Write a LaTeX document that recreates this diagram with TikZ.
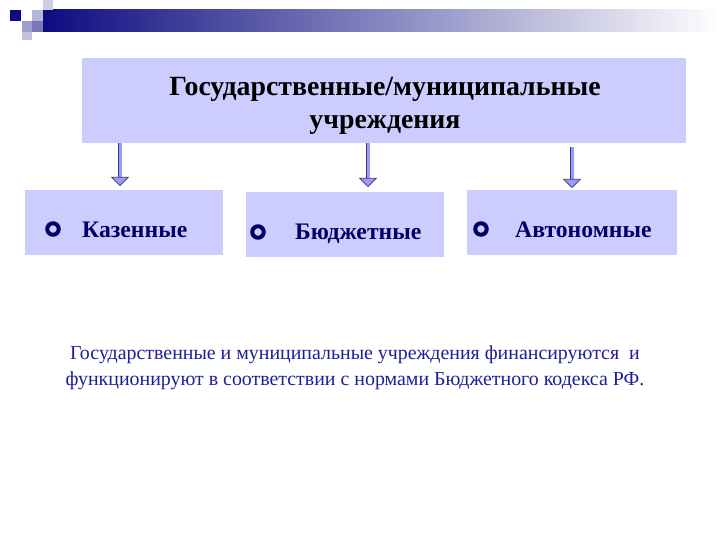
\documentclass[tikz,border=0pt]{standalone}
\usepackage{fontspec}
\setmainfont{Liberation Serif}
\usetikzlibrary{arrows.meta}
\definecolor{navy}{HTML}{0C0C80}
\definecolor{boxfill}{HTML}{CCCCFF}
\definecolor{arrowfill}{HTML}{9999FF}
\definecolor{arrowline}{HTML}{3A3A66}
\definecolor{labelnavy}{HTML}{000066}
\definecolor{bodyblue}{HTML}{1E1E99}
\begin{document}
\begin{tikzpicture}[x=1pt,y=-1pt,
	panel/.style={fill=boxfill,inner sep=0pt,anchor=north west},
	ring/.style={circle,draw=labelnavy,line width=4pt,minimum size=11.5pt,inner sep=0pt},
	kind/.style={anchor=base west,text=labelnavy,font=\bfseries\fontsize{23.7}{28}\selectfont,inner sep=0pt},
	blockarrow/.style={draw=arrowline,line width=0.7pt,double=arrowfill,double distance=3pt,
		-{Triangle[length=9pt,width=18pt,fill=arrowfill,line width=0.7pt]}}]
\useasboundingbox (0,0) rectangle (720,540);
\shade[left color=navy,right color=white] (43,10) rectangle (720,32);
\fill[navy] (10,10) rectangle (21,21);
\fill[navy!30] (32,10) rectangle (43,21);
\fill[navy!55] (32,21) rectangle (43,32);
\fill[navy!40] (22,21) rectangle (32,32);
\fill[navy!25] (22,32) rectangle (32,40);
\fill[navy!20] (43,0) rectangle (53,10);
\node[panel,minimum width=604pt,minimum height=85pt] (uchr) at (82,58) {};
\node[align=center,font=\bfseries\fontsize{27.8}{33}\selectfont] (title) at (385,106)
	{Государственные/муниципальные\\учреждения};
\node[panel,minimum width=198pt,minimum height=65pt] (kaz) at (25,190) {};
\node[panel,minimum width=198pt,minimum height=65pt] (budzh) at (246,192) {};
\node[panel,minimum width=210pt,minimum height=65pt] (avt) at (467,190) {};
\node[ring] (kazr) at (53,229) {};
\node[ring] (budzhr) at (258,232) {};
\node[ring] (avtr) at (481,229) {};
\node[kind] (kazt) at (82,237) {Казенные};
\node[kind] (budzht) at (295,240) {Бюджетные};
\node[kind] (avtt) at (515,237) {Автономные};
\coordinate (a1) at (120,0);
\coordinate (a2) at (368,0);
\coordinate (a3) at (572,0);
\draw[blockarrow,shorten >=4pt] (uchr.south -| a1) -- (kaz.north -| a1);
\draw[blockarrow,shorten >=5pt] (uchr.south -| a2) -- (budzh.north -| a2);
\draw[blockarrow,shorten <=4pt,shorten >=2pt] (uchr.south -| a3) -- (avt.north -| a3);
\node[align=center,text=bodyblue,font=\fontsize{19.9}{26}\selectfont] (note) at (355,368)
	{Государственные и муниципальные учреждения финансируются~~и\\функционируют в соответствии с нормами Бюджетного кодекса РФ.};
\end{tikzpicture}
\end{document}
